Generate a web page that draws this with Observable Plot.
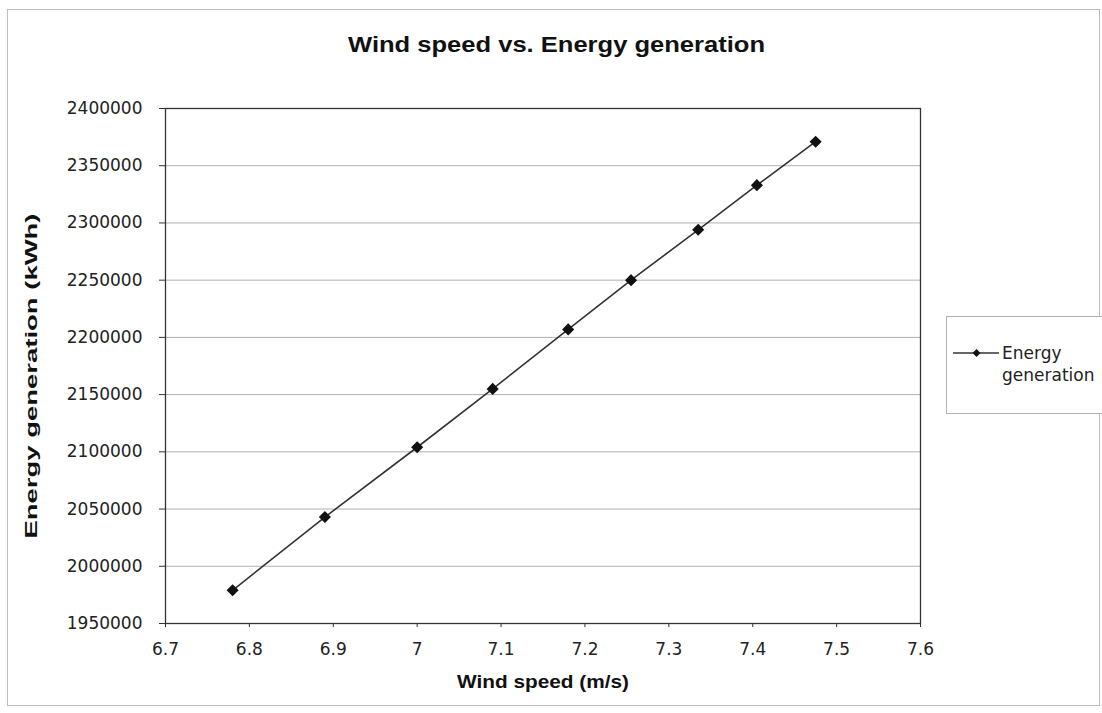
<!DOCTYPE html>
<html>
<head>
<meta charset="utf-8">
<script src="https://cdn.jsdelivr.net/npm/d3@7"></script>
<script src="https://cdn.jsdelivr.net/npm/@observablehq/plot@0.6"></script>
<style>
  html, body { margin: 0; padding: 0; background: #fff; }
  #wrap { position: relative; width: 1102px; height: 713px; overflow: hidden; }
  #wrap > svg { position: absolute; left: 0; top: 0; }
  #overlay { pointer-events: none; }
</style>
</head>
<body>
<div id="wrap"></div>
<script>
// ---- data ----
const windSpeed = [6.78, 6.89, 7.0, 7.09, 7.18, 7.255, 7.335, 7.405, 7.475];
const energy = [1979000, 2043000, 2104000, 2155000, 2207000, 2250000, 2294000, 2333000, 2371000];
const xTicks = [6.7, 6.8, 6.9, 7.0, 7.1, 7.2, 7.3, 7.4, 7.5, 7.6];
const yTicks = [1950000, 2000000, 2050000, 2100000, 2150000, 2200000, 2250000, 2300000, 2350000, 2400000];
const titleText = "Wind speed vs. Energy generation";
const xLabel = "Wind speed (m/s)";
const yLabel = "Energy generation (kWh)";
const seriesName = ["Energy", "generation"];

const rows = windSpeed.map((w, i) => ({ wind: w, energy: energy[i] }));

const chart = Plot.plot({
  width: 1102,
  height: 713,
  marginLeft: 165,
  marginRight: 182,
  marginTop: 108,
  marginBottom: 90,
  style: { fontFamily: "'DejaVu Sans', sans-serif", fontSize: "17px", color: "#222", background: "transparent" },
  x: { domain: [6.7, 7.6], ticks: xTicks, tickFormat: d => String(+d.toFixed(1)), label: null },
  y: { domain: [1950000, 2400000], ticks: yTicks, tickFormat: d => String(d), label: null },
  marks: [
    Plot.ruleY(yTicks, { stroke: "#b0b0b0", strokeWidth: 1 }),
    Plot.frame({ stroke: "#333", strokeWidth: 1.3 }),
    Plot.axisY({ ticks: yTicks, tickFormat: d => String(d), tickSize: 6, tickPadding: 17, label: null, stroke: "#333" }),
    Plot.axisX({ ticks: xTicks, tickFormat: d => String(+d.toFixed(1)), tickSize: 4, tickPadding: 15, label: null, stroke: "#333" }),
    Plot.line(rows, { x: "wind", y: "energy", stroke: "#333", strokeWidth: 1.6 }),
    Plot.dot(rows, { x: "wind", y: "energy", symbol: "diamond2", r: 4.5, fill: "#111", stroke: "#111", strokeWidth: 1.5 })
  ]
});
document.getElementById("wrap").appendChild(chart);

// ---- overlay: title, axis titles, legend, outer border ----
const W = 1102, H = 713;
const ov = d3.select("#wrap").append("svg")
  .attr("id", "overlay")
  .attr("width", W).attr("height", H)
  .style("font-family", "'DejaVu Sans', sans-serif");

ov.append("rect").attr("x", 7.5).attr("y", 9.5).attr("width", 1092).attr("height", 696)
  .attr("fill", "none").attr("stroke", "#bdbdbd").attr("stroke-width", 1);

ov.append("text").text(titleText)
  .attr("x", 556.5).attr("y", 51.5).attr("text-anchor", "middle")
  .attr("font-family", "'Liberation Sans', Arial, sans-serif")
  .attr("font-size", 22).attr("font-weight", "bold").attr("fill", "#111")
  .attr("textLength", 417).attr("lengthAdjust", "spacingAndGlyphs");

ov.append("text").text(xLabel)
  .attr("x", 543).attr("y", 688).attr("text-anchor", "middle")
  .attr("font-family", "'Liberation Sans', Arial, sans-serif")
  .attr("font-size", 18).attr("font-weight", "bold").attr("fill", "#111")
  .attr("textLength", 172).attr("lengthAdjust", "spacingAndGlyphs");

ov.append("text").text(yLabel)
  .attr("transform", "translate(37,376) rotate(-90)")
  .attr("text-anchor", "middle")
  .attr("font-family", "'Liberation Sans', Arial, sans-serif")
  .attr("font-size", 16).attr("font-weight", "bold").attr("fill", "#111")
  .attr("textLength", 325).attr("lengthAdjust", "spacingAndGlyphs");

// legend
const lg = ov.append("g");
lg.append("rect").attr("x", 946.5).attr("y", 316.5).attr("width", 160).attr("height", 97)
  .attr("fill", "#fff").attr("stroke", "#b0b0b0");
lg.append("line").attr("x1", 953).attr("x2", 999).attr("y1", 353).attr("y2", 353)
  .attr("stroke", "#333").attr("stroke-width", 1.6);
lg.append("path").attr("d", d3.symbol(d3.symbolDiamond2, 40)())
  .attr("transform", "translate(976.5,353)").attr("fill", "#111");
lg.append("text").text(seriesName[0]).attr("x", 1002).attr("y", 359)
  .attr("font-size", 17).attr("fill", "#222");
lg.append("text").text(seriesName[1]).attr("x", 1002).attr("y", 381)
  .attr("font-size", 17).attr("fill", "#222");
</script>
</body>
</html>
